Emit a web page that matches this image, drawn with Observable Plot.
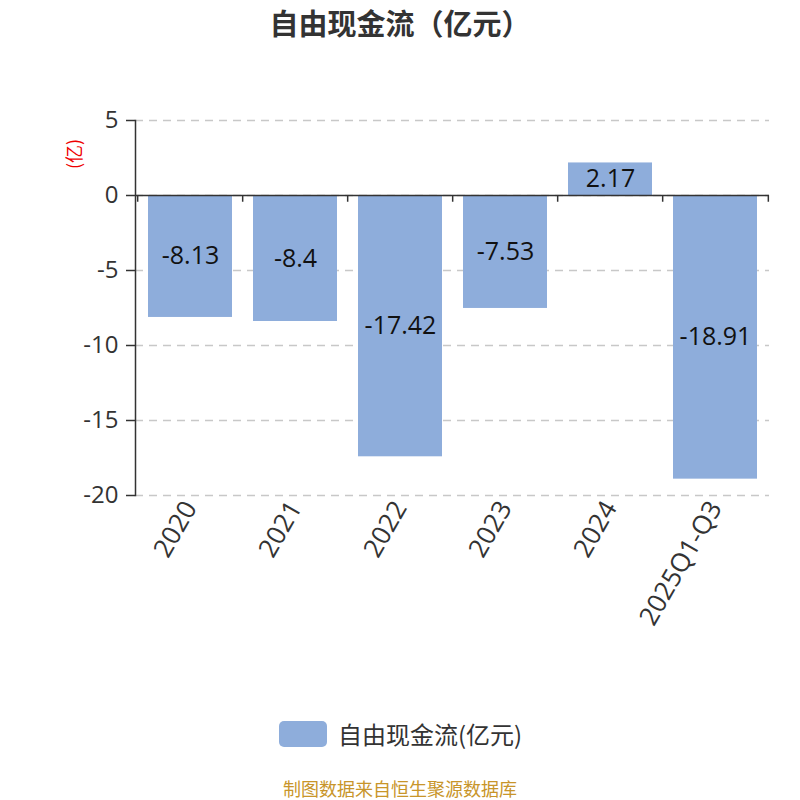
<!DOCTYPE html>
<html><head><meta charset="utf-8">
<script src="https://cdn.jsdelivr.net/npm/d3@7"></script>
<script src="https://cdn.jsdelivr.net/npm/@observablehq/plot@0.6"></script>
<style>
body{margin:0;background:#fff;font-family:"Open Sans","Noto Sans CJK SC",sans-serif;}
#wrap{position:relative;width:800px;height:800px;overflow:hidden;}
#title{position:absolute;top:1px;left:0;width:800px;text-align:center;font-size:29px;font-weight:bold;color:#333;font-family:"Noto Sans CJK SC",sans-serif;}
#chart{position:absolute;top:0;left:0;}
#ylab{position:absolute;left:58px;top:141px;color:#e00;font-size:18px;transform:rotate(-90deg);transform-origin:center;font-family:"Noto Sans CJK SC",sans-serif;}
#legend{position:absolute;top:716px;left:279px;display:flex;align-items:center;font-size:24px;color:#333;font-family:"Noto Sans CJK SC",sans-serif;}
#legend .sw{width:48px;height:26px;border-radius:5px;background:#8eaddb;margin-right:11px;}
#footer{position:absolute;top:775px;left:0;width:800px;text-align:center;font-size:18px;color:#c8952a;font-family:"Noto Sans CJK SC",sans-serif;}
</style></head>
<body><div id="wrap">
<div id="chart"></div>
<div id="title">自由现金流（亿元）</div>
<div id="ylab">(亿)</div>
<div id="legend"><div class="sw"></div><span>自由现金流(亿元)</span></div>
<div id="footer">制图数据来自恒生聚源数据库</div>
</div>
<script>
const categories = ["2020","2021","2022","2023","2024","2025Q1-Q3"];
const values = [-8.13, -8.4, -17.42, -7.53, 2.17, -18.91];
const yTicks = [5, 0, -5, -10, -15, -20];

const data = categories.map((c, i) => ({cat: c, value: values[i]}));
const W = 800, ML = 135, MR = 31;
const step = (W - ML - MR) / categories.length;
const fmt = d => String(d);

const chart = Plot.plot({
  width: W, height: 700,
  marginTop: 120, marginBottom: 205, marginLeft: ML, marginRight: MR,
  style: {fontSize: "24px", fontFamily: "'Open Sans','Noto Sans CJK SC',sans-serif", color: "#333", background: "transparent"},
  x: {domain: categories, paddingInner: 0.2, paddingOuter: 0.1, label: null},
  y: {domain: [-20, 5], label: null},
  marks: [
    Plot.gridY(yTicks, {stroke: "#c8c8c8", strokeOpacity: 1, strokeDasharray: "8,6", strokeWidth: 1.5}),
    Plot.barY(data, {x: "cat", y: "value", fill: "#8eaddb"}),
    Plot.ruleY([0], {stroke: "#333", strokeWidth: 1.5}),
    Plot.ruleX(categories, {x: d => d, y1: 0, y2: -0.45, dx: -step / 2, stroke: "#333", strokeWidth: 1.5}),
    Plot.ruleX([categories[categories.length - 1]], {x: d => d, y1: 0, y2: -0.45, dx: step / 2, stroke: "#333", strokeWidth: 1.5}),
    Plot.frame({anchor: "left", stroke: "#333", strokeWidth: 1.5}),
    Plot.axisY(yTicks, {tickSize: 9, tickPadding: 8, tickFormat: fmt, stroke: "#333", strokeWidth: 1.5, fill: "#333", fontSize: 24, label: null}),
    Plot.axisX({tickSize: 0, tickRotate: -60, tickPadding: 8, fill: "#333", fontSize: 26, label: null}),
    Plot.text(data, {x: "cat", y: d => d.value / 2, text: d => fmt(d.value), fill: "#111", fontSize: 25})
  ]
});
document.getElementById("chart").appendChild(chart);
</script>
</body></html>
